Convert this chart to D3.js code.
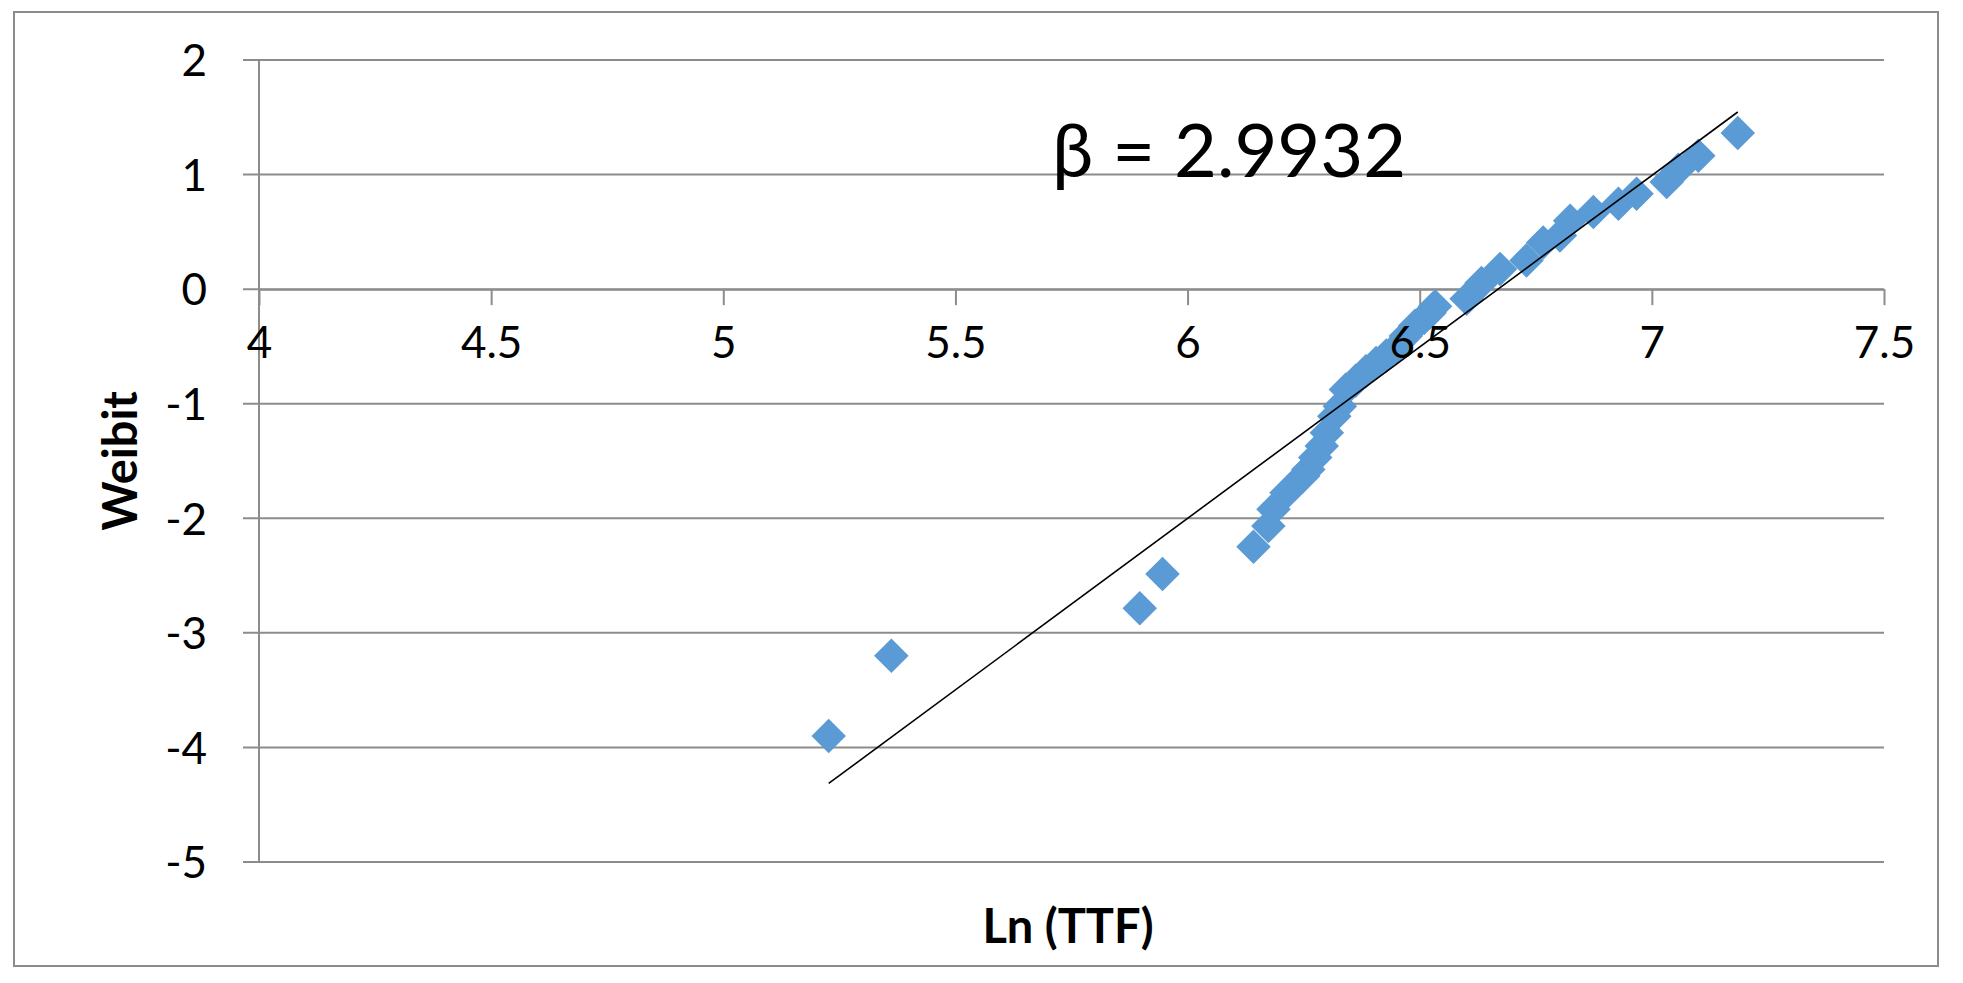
<!DOCTYPE html>
<html lang="en">
<head>
    <meta charset="utf-8">
    <title>Weibull plot</title>
    <style type="text/css">
        body { margin: 0; background: #fff; }
        .grid line { stroke: #8c8c8c; stroke-width: 2; }
        .axis path, .axis line { stroke: #8c8c8c; stroke-width: 2; }
        .axis text { font-family: Lato, "Open Sans", sans-serif; font-size: 44px; fill: #000; }
        .dot { fill: #5b9bd5; }
        .trend { fill: none; stroke: #000; stroke-width: 1.6; }
        .title { font-family: Lato, "Open Sans", sans-serif; font-weight: bold; font-size: 47px; }
    </style>
</head>
<body>
<div id="chart"></div>

<script src="https://d3js.org/d3.v7.min.js"></script>
<script type="text/javascript">

    // Ln(TTF) vs Weibit
    var lnTTF = [5.227, 5.362, 5.897, 5.946, 6.142, 6.174, 6.185, 6.213, 6.249, 6.260,
                 6.275, 6.289, 6.300, 6.316, 6.328, 6.341, 6.362, 6.384, 6.406, 6.428,
                 6.449, 6.470, 6.490, 6.510, 6.521, 6.533, 6.601, 6.633, 6.673, 6.730,
                 6.766, 6.802, 6.824, 6.874, 6.928, 6.967, 7.032, 7.057, 7.100, 7.185];
    var weibit = [-3.90, -3.20, -2.786, -2.487, -2.248, -2.068, -1.922, -1.777, -1.632, -1.574,
                  -1.47, -1.370, -1.254, -1.109, -1.022, -0.876, -0.80, -0.717, -0.644, -0.58,
                  -0.513, -0.41, -0.32, -0.25, -0.208, -0.150, -0.083, 0.054, 0.176, 0.251,
                  0.408, 0.469, 0.597, 0.673, 0.745, 0.833, 0.935, 1.042, 1.164, 1.362];

    var xTicks = [4, 4.5, 5, 5.5, 6, 6.5, 7, 7.5];
    var yTicks = [2, 1, 0, -1, -2, -3, -4, -5];

    // linear trend line
    var trendSlope = 2.9932,
        trendIntercept = -19.96;
    var betaLabel = "β = 2.9932";

    var W = 1963, H = 983;

    var svg = d3.select("#chart")
            .append("svg")
            .attr("width", W)
            .attr("height", H);

    // outer chart border
    svg.append("rect")
            .attr("x", 14).attr("y", 12)
            .attr("width", 1924).attr("height", 954)
            .attr("fill", "#fff")
            .attr("stroke", "#8c8c8c")
            .attr("stroke-width", 2);

    var xScale = d3.scaleLinear().domain([4, 7.5]).range([259, 1884]);
    var yScale = d3.scaleLinear().domain([-5, 2]).range([862, 60]);

    // plain hyphen like the original, not the unicode minus d3 uses
    var fmt = function(d) { return String(d); };

    // horizontal grid lines (with the little outside ticks on the left)
    svg.append("g")
            .attr("class", "grid")
            .selectAll("line")
            .data(yTicks)
            .enter().append("line")
            .attr("x1", xScale(4) - 16)
            .attr("x2", xScale(7.5))
            .attr("y1", function(d) { return yScale(d); })
            .attr("y2", function(d) { return yScale(d); });

    // y axis
    var yAxis = d3.axisLeft(yScale)
            .tickValues(yTicks)
            .tickFormat(fmt)
            .tickSize(0)
            .tickPadding(52);

    var y_axis = svg.append("g")
            .attr("class", "axis")
            .attr("transform", "translate(" + xScale(4) + ",0)")
            .call(yAxis);
    y_axis.select(".domain").attr("d", "M0," + yScale(2) + "V" + yScale(-5));
    y_axis.selectAll("text").attr("dy", "0.36em");

    // x axis crossing at y = 0 (lines only, labels drawn later on top)
    var xAxis = d3.axisBottom(xScale)
            .tickValues(xTicks)
            .tickFormat(fmt)
            .tickSize(16)
            .tickSizeOuter(0)
            .tickPadding(22);

    var x_axis = svg.append("g")
            .attr("class", "axis")
            .attr("transform", "translate(0," + yScale(0) + ")")
            .call(xAxis);
    x_axis.selectAll("text").remove();

    // points
    var pts = lnTTF.map(function(d, i) { return { x: d, y: weibit[i] }; });
    var diamond = d3.symbol().type(d3.symbolDiamond2).size(760);

    svg.selectAll(".dot")
            .data(pts)
            .enter().append("path")
            .attr("class", "dot")
            .attr("d", diamond)
            .attr("transform", function(d) {
                return "translate(" + xScale(d.x) + "," + yScale(d.y) + ")";
            });

    // trend line
    var xExt = d3.extent(lnTTF);
    var line = d3.line()
            .x(function(d) { return xScale(d); })
            .y(function(d) { return yScale(trendSlope * d + trendIntercept); });

    svg.append("path")
            .datum(xExt)
            .attr("class", "trend")
            .attr("d", line);

    // x tick labels over the markers
    var x_labels = svg.append("g")
            .attr("class", "axis")
            .attr("transform", "translate(0," + yScale(0) + ")")
            .call(xAxis);
    x_labels.select(".domain").remove();
    x_labels.selectAll("line").remove();
    x_labels.selectAll("text").attr("dy", "0.71em");

    // annotation
    svg.append("text")
            .attr("x", 1052)
            .attr("y", 177)
            .style("font-family", "Lato, 'Open Sans', sans-serif")
            .style("font-size", "74px")
            .text(betaLabel);

    // axis titles
    svg.append("text")
            .attr("class", "title")
            .attr("x", 1068)
            .attr("y", 943)
            .attr("text-anchor", "middle")
            .text("Ln (TTF)");

    svg.append("text")
            .attr("class", "title")
            .attr("text-anchor", "middle")
            .attr("transform", "translate(137,461) rotate(-90)")
            .text("Weibit");

</script>
</body>
</html>
